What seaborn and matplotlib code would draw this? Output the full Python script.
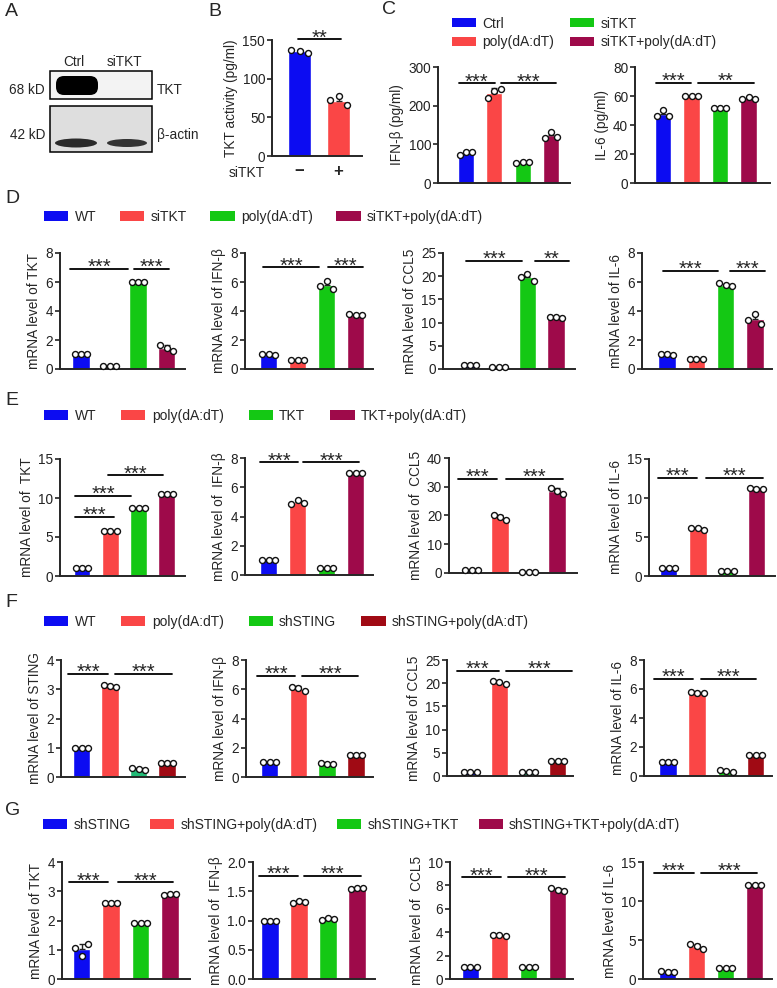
"""Multi-panel bar charts (TKT / STING knockdown and overexpression).
"""
import matplotlib.pyplot as plt
import numpy as np
import pandas as pd
import seaborn as sns
from matplotlib.patches import Patch, Rectangle, FancyBboxPatch, Ellipse

# Group names for each panel row
groups_b = ["Ctrl", "siTKT"]
groups_c = ["Ctrl", "poly(dA:dT)", "siTKT", "siTKT+poly(dA:dT)"]
groups_d = ["WT", "siTKT", "poly(dA:dT)", "siTKT+poly(dA:dT)"]
groups_e = ["WT", "poly(dA:dT)", "TKT", "TKT+poly(dA:dT)"]
groups_f = ["WT", "poly(dA:dT)", "shSTING", "shSTING+poly(dA:dT)"]
groups_g = ["shSTING", "shSTING+poly(dA:dT)", "shSTING+TKT", "shSTING+TKT+poly(dA:dT)"]

# Replicate values (three per group)
b_activity = [[137, 136, 133], [72, 77, 66]]
c_ifnb = [[72, 80, 80], [220, 237, 244], [52, 55, 55], [117, 132, 120]]
c_il6 = [[46, 50, 46], [60, 60, 60], [52, 52, 52], [58, 59, 58]]

d_tkt = [[1.0, 1.0, 1.0], [0.22, 0.22, 0.22], [6.0, 6.0, 5.97], [1.65, 1.45, 1.25]]
d_ifnb = [[1.0, 1.0, 0.97], [0.62, 0.62, 0.62], [5.7, 6.1, 5.5], [3.8, 3.75, 3.72]]
d_ccl5 = [[0.9, 0.9, 0.9], [0.45, 0.45, 0.45], [19.8, 20.5, 19.0], [11.3, 11.1, 11.0]]
d_il6 = [[1.0, 1.0, 0.98], [0.7, 0.7, 0.7], [5.9, 5.8, 5.75], [3.4, 3.8, 3.1]]

e_tkt = [[1, 1, 1], [5.8, 5.8, 5.8], [8.7, 8.7, 8.7], [10.5, 10.5, 10.5]]
e_ifnb = [[1, 1, 1], [4.85, 5.1, 4.95], [0.5, 0.5, 0.5], [6.95, 6.95, 6.95]]
e_ccl5 = [[1, 1, 1], [20.2, 19.5, 18.6], [0.4, 0.4, 0.4], [29.5, 28.5, 27.5]]
e_il6 = [[1, 1, 1], [6.1, 6.1, 5.9], [0.7, 0.7, 0.7], [11.3, 11.2, 11.1]]

f_sting = [[1, 1, 1], [3.15, 3.12, 3.08], [0.3, 0.28, 0.25], [0.48, 0.48, 0.48]]
f_ifnb = [[1, 1, 1], [6.15, 6.1, 5.85], [0.95, 0.92, 0.9], [1.5, 1.5, 1.5]]
f_ccl5 = [[0.9, 0.9, 0.9], [20.4, 20.2, 19.8], [0.9, 0.9, 0.9], [3.3, 3.3, 3.3]]
f_il6 = [[1, 1, 1], [5.8, 5.75, 5.7], [0.42, 0.35, 0.28], [1.45, 1.45, 1.45]]

g_tkt = [[1.05, 0.8, 1.18], [2.6, 2.6, 2.6], [1.9, 1.9, 1.9], [2.88, 2.9, 2.9]]
g_ifnb = [[1.0, 1.0, 1.0], [1.3, 1.33, 1.32], [1.01, 1.04, 1.02], [1.53, 1.55, 1.55]]
g_ccl5 = [[1, 1, 1], [3.8, 3.75, 3.65], [1, 1, 1], [7.8, 7.6, 7.55]]
g_il6 = [[1.0, 0.9, 0.9], [4.5, 4.2, 3.9], [1.4, 1.4, 1.4], [12.1, 12.1, 12.1]]

# Colours
BLUE, RED, GREEN, MAROON = "#0c0cf2", "#fa4646", "#14c814", "#9e0a4a"
TEAL, DARKRED = "#22bb77", "#a00a14"
pal4 = [BLUE, RED, GREEN, MAROON]

sns.set_style("ticks")
plt.rcParams["font.family"] = ["Liberation Sans", "DejaVu Sans"]
plt.rcParams["axes.linewidth"] = 1.4

W, H = 777, 988
fig = plt.figure(figsize=(W / 100, H / 100), dpi=100)

# Full-figure overlay in pixel units for the blot and panel letters
ov = fig.add_axes([0, 0, 1, 1])
ov.set_xlim(0, W)
ov.set_ylim(H, 0)
ov.axis("off")
for letter, (px, py) in zip("ABCDEFG", [(5, 11), (208, 11), (382, 10), (5, 198),
                                         (5, 400), (5, 602), (5, 810)]):
    ov.text(px, py, letter, fontsize=14, ha="left", va="center")

# Panel A: western blot sketch
ov.add_patch(Rectangle((50, 71), 102, 28, facecolor="#f3f3f3", edgecolor="black", lw=1.1))
ov.add_patch(Rectangle((50, 106), 102, 46, facecolor="#dedede", edgecolor="black", lw=1.1))
ov.add_patch(FancyBboxPatch((58, 78), 38, 15, boxstyle="round,pad=2,rounding_size=8",
                            facecolor="black", edgecolor="none"))
ov.add_patch(Ellipse((76, 143), 42, 9, facecolor="#2a2a2a", edgecolor="none"))
ov.add_patch(Ellipse((127, 143), 40, 8, facecolor="#333333", edgecolor="none"))
for txt, px, py, ha in [("Ctrl", 74, 62, "center"), ("siTKT", 124, 62, "center"),
                        ("68 kD", 45, 90, "right"), ("42 kD", 45, 135, "right"),
                        ("TKT", 157, 90, "left"), ("β-actin", 157, 135, "left")]:
    ov.text(px, py, txt, fontsize=9.8, ha=ha, va="center")


def bar_panel(box, values, groups, colors, ymax, ystep, ylabel, sigs, bw=0.6):
    """box = (spine_x, first_bar_center_x, bar_spacing, right_x, y0_px, ymax_px)."""
    left, c0, sp, right, yb, yt = box
    ax = fig.add_axes([left / W, 1 - yb / H, (right - left) / W, (yb - yt) / H])
    df = pd.DataFrame({
        "grp": np.repeat(groups, 3),
        "val": np.concatenate([np.asarray(v, float) for v in values]),
    })
    sns.barplot(data=df, x="grp", y="val", hue="grp", order=groups, hue_order=groups,
                palette=colors, errorbar=None, width=bw, saturation=1, legend=False, ax=ax)
    stats = df.groupby("grp", sort=False)["val"].agg(["mean", "std"]).reindex(groups)
    xs = np.arange(len(groups))
    ax.errorbar(xs, stats["mean"], yerr=[np.zeros(len(xs)), stats["std"]], fmt="none",
                ecolor="#222222", elinewidth=1.0, capsize=2.5, capthick=1.0, zorder=3)
    offs = np.array([-0.22, 0.0, 0.22])
    for i, v in enumerate(values):
        ax.plot(i + offs, v, "o", ms=4.3, mfc="white", mec="#111111", mew=1.0,
                zorder=4, clip_on=False)
    for x0, x1, y, lab in sigs:
        ax.plot([x0, x1], [y, y], color="black", lw=1.3, clip_on=False)
        ax.annotate(lab, ((x0 + x1) / 2, y), xytext=(0, -3), textcoords="offset points",
                    ha="center", va="baseline", fontsize=14.5, annotation_clip=False)
    ax.set_xlim(-(c0 - left) / sp, (right - c0) / sp)
    ax.set_ylim(0, ymax)
    ticks = np.arange(0, ymax + ystep / 2, ystep)
    ax.set_yticks(ticks)
    if ystep < 1:
        ax.set_yticklabels([f"{t:.1f}" for t in ticks])
    else:
        ax.set_yticklabels([f"{t:g}" for t in ticks])
    ax.set_xticks([])
    ax.set_xlabel("")
    ax.set_ylabel(ylabel, fontsize=9.8, labelpad=3)
    ax.tick_params(axis="y", direction="out", length=3.5, width=1.2, labelsize=9.8,
                   pad=1.5, colors="#222222")
    sns.despine(ax=ax)
    ax.patch.set_alpha(0)
    return ax


def row_legend(labels, colors, x_px, y_px, ncol=4, colspace=1.8):
    handles = [Patch(facecolor=c, edgecolor="none") for c in colors]
    fig.legend(handles, labels, loc="center left", bbox_to_anchor=(x_px / W, 1 - y_px / H),
               ncol=ncol, frameon=False, fontsize=10, handlelength=1.75, handleheight=0.65,
               handletextpad=0.45, columnspacing=colspace, borderpad=0, borderaxespad=0,
               labelspacing=0.35)


# Panel B
axb = bar_panel((272, 299.5, 39, 362, 156, 40), b_activity, groups_b, [BLUE, RED],
                150, 50, "TKT activity (pg/ml)", [(-0.04, 1.06, 151, "**")], bw=0.59)
axb.set_xticks([0, 1])
axb.set_xticklabels(["−", "+"], fontsize=12, fontweight="bold")
axb.tick_params(axis="x", length=0, pad=6)
axb.text(265, 173, "siTKT", fontsize=10, ha="right", va="center",
         transform=ov.transData)

# Panel C
row_legend(groups_c, pal4, 452, 33, ncol=2, colspace=1.1)
bar_panel((438, 466, 28.3, 570, 183, 67), c_ifnb, groups_c, pal4, 300, 100,
          "IFN-β (pg/ml)", [(-0.25, 1.02, 258, "***"), (1.24, 3.18, 258, "***")], bw=0.57)
bar_panel((635, 663, 28.5, 770, 183, 67), c_il6, groups_c, pal4, 80, 20,
          "IL-6 (pg/ml)", [(-0.25, 0.98, 69, "***"), (1.23, 3.19, 69, "**")], bw=0.57)

# Panel D
row_legend(groups_d, pal4, 44, 217, colspace=1.7)
bar_panel((60, 81, 28.5, 185, 369, 253), d_tkt, groups_d, pal4, 8, 2,
          "mRNA level of TKT", [(-0.39, 1.65, 6.9, "***"), (1.86, 3.09, 6.9, "***")])
bar_panel((245, 268.5, 29, 373, 369, 253), d_ifnb, groups_d, pal4, 8, 2,
          "mRNA level of IFN-β", [(-0.19, 1.74, 7.0, "***"), (2.05, 3.26, 7.0, "***")])
bar_panel((443, 470, 28.7, 575, 369, 253), d_ccl5, groups_d, pal4, 25, 5,
          "mRNA level of CCL5", [(-0.14, 1.81, 23.3, "***"), (2.26, 3.45, 23.3, "**")])
bar_panel((642, 667, 29.3, 772, 369, 253), d_il6, groups_d, pal4, 8, 2,
          "mRNA level of IL-6", [(-0.14, 1.74, 6.76, "***"), (2.15, 3.34, 6.76, "***")])

# Panel E
row_legend(groups_e, pal4, 44, 416)
bar_panel((60, 82, 28.3, 185, 576, 459), e_tkt, groups_e, pal4, 15, 5,
          "mRNA level of  TKT", [(-0.25, 1.13, 7.6, "***"), (-0.25, 1.73, 10.3, "***"),
                                 (0.92, 2.86, 12.9, "***")])
bar_panel((245, 268.5, 29, 373, 575, 458), e_ifnb, groups_e, pal4, 8, 2,
          "mRNA level of  IFN-β", [(-0.29, 1.02, 7.7, "***"), (1.19, 3.12, 7.7, "***")])
bar_panel((449, 471.5, 28.5, 577, 573, 458), e_ccl5, groups_e, pal4, 40, 10,
          "mRNA level of  CCL5", [(-0.47, 0.9, 32.7, "***"), (1.21, 3.2, 32.7, "***")])
bar_panel((649, 668.5, 29.3, 775, 576, 459), e_il6, groups_e, pal4, 15, 5,
          "mRNA level of IL-6", [(-0.36, 0.97, 12.6, "***"), (1.28, 3.22, 12.6, "***")])

# Panel F
row_legend(groups_f, [BLUE, RED, GREEN, DARKRED], 44, 622)
bar_panel((61, 81.5, 28.5, 185, 777, 660), f_sting, groups_f, [BLUE, RED, TEAL, DARKRED], 4, 1,
          "mRNA level of STING", [(-0.47, 0.93, 3.52, "***"), (1.18, 3.17, 3.52, "***")])
bar_panel((246, 269.5, 28.8, 373, 777, 660), f_ifnb, groups_f, [BLUE, RED, GREEN, DARKRED], 8, 2,
          "mRNA level of IFN-β", [(-0.43, 0.89, 6.9, "***"), (1.13, 3.07, 6.9, "***")])
bar_panel((447, 470.5, 29, 573, 776, 660), f_ccl5, groups_f, [BLUE, RED, TEAL, DARKRED], 25, 5,
          "mRNA level of CCL5", [(-0.47, 0.98, 22.6, "***"), (1.22, 3.5, 22.6, "***")])
bar_panel((644, 668, 29.2, 772, 776, 660), f_il6, groups_f, [BLUE, RED, GREEN, DARKRED], 8, 2,
          "mRNA level of IL-6", [(-0.48, 0.86, 6.7, "***"), (1.13, 3.0, 6.7, "***")])

# Panel G
row_legend(groups_g, pal4, 43, 825, colspace=1.4)
bar_panel((62, 81.5, 29.5, 190, 979, 862), g_tkt, groups_g, pal4, 4, 1,
          "mRNA level of TKT", [(-0.42, 0.9, 3.3, "***"), (1.24, 3.1, 3.3, "***")])
bar_panel((253, 270, 29, 375, 979, 862), g_ifnb, groups_g, pal4, 2.0, 0.5,
          "mRNA level of  IFN-β", [(-0.38, 0.97, 1.76, "***"), (1.17, 3.14, 1.76, "***")])
bar_panel((450, 470.5, 29, 573, 979, 862), g_ccl5, groups_g, pal4, 10, 2,
          "mRNA level of  CCL5", [(-0.29, 1.05, 8.7, "***"), (1.29, 3.26, 8.7, "***")])
bar_panel((643, 667.5, 29, 772, 979, 862), g_il6, groups_g, pal4, 15, 5,
          "mRNA level of IL-6", [(-0.47, 0.91, 13.6, "***"), (1.16, 3.09, 13.6, "***")])

fig.savefig("out.png", dpi=100)
